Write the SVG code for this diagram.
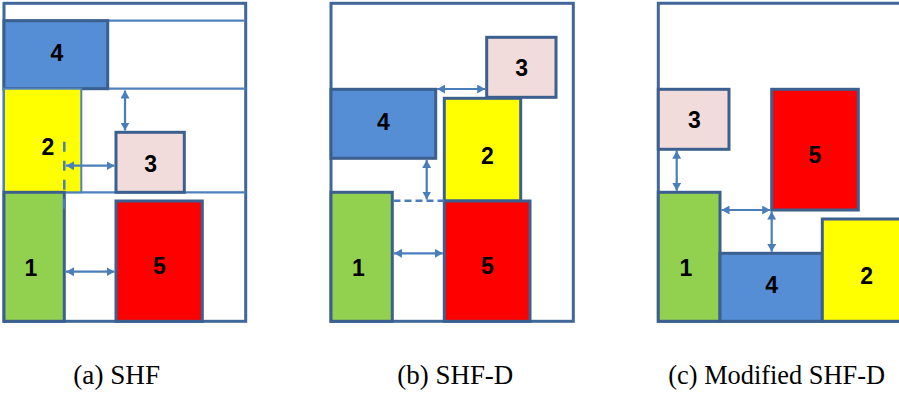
<svg xmlns="http://www.w3.org/2000/svg" width="899" height="397" viewBox="0 0 899 397">
<style>
.frame{fill:none;stroke:#40679A;stroke-width:3}
.shelf{fill:none;stroke:#4F81BD;stroke-width:2.2}
.box{stroke:#3B5F8E;stroke-width:3}
.lbl{font-family:"Liberation Sans",Arial,sans-serif;font-weight:bold;font-size:23px;fill:#000;text-anchor:middle}
.cap{font-family:"Liberation Serif","Times New Roman",serif;font-size:28px;fill:#000}
.arr{stroke:#4A7EBB;stroke-width:2.2;fill:none;marker-start:url(#ah);marker-end:url(#ah)}
.dash{stroke:#4A7EBB;stroke-width:2.5;fill:none}
</style>
<defs>
<marker id="ah" markerUnits="userSpaceOnUse" markerWidth="9" markerHeight="9" refX="8" refY="4.5" orient="auto-start-reverse">
<path d="M0,0 L8,4.5 L0,9 z" fill="#4A7EBB"/>
</marker>
</defs>
<rect width="899" height="397" fill="#fff"/>

<!-- Panel (a) -->
<g id="panel-a">
<rect class="frame" x="4" y="3.3" width="241.7" height="318"/>
<line class="shelf" x1="4" y1="20.7" x2="245.7" y2="20.7"/>
<line class="shelf" x1="4" y1="88.7" x2="245.7" y2="88.7"/>
<line class="shelf" x1="4" y1="192.3" x2="245.7" y2="192.3"/>
</g>
<g id="a-box4"><rect class="box" x="4" y="20.7" width="103.7" height="68" fill="#558ED5"/><text class="lbl" x="57" y="60.5">4</text></g>
<g id="a-box2"><rect x="4" y="88.7" width="77.3" height="103.6" fill="#FFFF00" stroke="#4F81BD" stroke-width="2"/><text class="lbl" x="48" y="155">2</text></g>
<g id="a-box3"><rect class="box" x="116" y="132.3" width="68.3" height="60" fill="#F2DCDB"/><text class="lbl" x="150.7" y="171.5">3</text></g>
<g id="a-box1"><rect class="box" x="4" y="192.3" width="60.3" height="129" fill="#92D050"/><text class="lbl" x="31" y="275.5">1</text></g>
<g id="a-box5"><rect class="box" x="116" y="201" width="86.3" height="120.3" fill="#FF0000"/><text class="lbl" x="159.3" y="274">5</text></g>

<!-- Panel (b) -->
<g id="panel-b"><rect class="frame" x="331" y="3.3" width="242.3" height="318"/></g>
<g id="b-box3"><rect class="box" x="486.7" y="37.3" width="69.3" height="60" fill="#F2DCDB"/><text class="lbl" x="521.7" y="76">3</text></g>
<g id="b-box4"><rect class="box" x="331" y="89.3" width="104.7" height="69" fill="#558ED5"/><text class="lbl" x="383.3" y="130">4</text></g>
<g id="b-box2"><rect class="box" x="444.3" y="98.3" width="76.4" height="102.7" fill="#FFFF00"/><text class="lbl" x="487.3" y="164.3">2</text></g>
<g id="b-box1"><rect class="box" x="331" y="192.3" width="61.3" height="129" fill="#92D050"/><text class="lbl" x="358.3" y="276">1</text></g>
<g id="b-box5"><rect class="box" x="444.3" y="201" width="85.7" height="120.3" fill="#FF0000"/><text class="lbl" x="487.3" y="274">5</text></g>

<!-- Panel (c) -->
<g id="panel-c"><path class="frame" d="M899,3.3 H658.3 V321.3 H899"/></g>
<g id="c-box3"><rect class="box" x="658.3" y="89.3" width="70.7" height="60" fill="#F2DCDB"/><text class="lbl" x="694.3" y="128.3">3</text></g>
<g id="c-box5"><rect class="box" x="771.7" y="89.3" width="86.6" height="120.7" fill="#FF0000"/><text class="lbl" x="815" y="162.7">5</text></g>
<g id="c-box1"><rect class="box" x="658.3" y="192.3" width="61.7" height="129" fill="#92D050"/><text class="lbl" x="686" y="276">1</text></g>
<g id="c-box4"><rect class="box" x="720" y="253.3" width="102.3" height="68" fill="#558ED5"/><text class="lbl" x="771.7" y="293.3">4</text></g>
<g id="c-box2"><rect class="box" x="822.3" y="219" width="80" height="102.3" fill="#FFFF00"/><text class="lbl" x="866.7" y="284">2</text></g>

<!-- Connectors -->
<g id="connectors">
<line class="dash" x1="64.3" y1="141.7" x2="64.3" y2="210" stroke-dasharray="10,9"/>
<line class="arr" x1="125" y1="90.5" x2="125" y2="130.5"/>
<line class="arr" x1="66" y1="165.7" x2="114.5" y2="165.7"/>
<line class="arr" x1="66" y1="271.7" x2="114.5" y2="271.7"/>

<line class="dash" x1="393.5" y1="200.7" x2="444" y2="200.7" stroke-dasharray="7,4"/>
<line class="arr" x1="437.2" y1="89" x2="485.2" y2="89"/>
<line class="arr" x1="426.7" y1="160" x2="426.7" y2="199.5"/>
<line class="arr" x1="394" y1="253.3" x2="442.8" y2="253.3"/>

<line class="arr" x1="676.7" y1="150.8" x2="676.7" y2="190.8"/>
<line class="arr" x1="721.5" y1="210" x2="770.2" y2="210"/>
<line class="arr" x1="771.7" y1="211.5" x2="771.7" y2="251.8"/>
</g>

<!-- Captions -->
<text class="cap" x="73.3" y="384" textLength="86.7" lengthAdjust="spacingAndGlyphs">(a) SHF</text>
<text class="cap" x="397.3" y="384" textLength="116" lengthAdjust="spacingAndGlyphs">(b) SHF-D</text>
<text class="cap" x="668.3" y="384" textLength="216.7" lengthAdjust="spacingAndGlyphs">(c) Modified SHF-D</text>
</svg>
